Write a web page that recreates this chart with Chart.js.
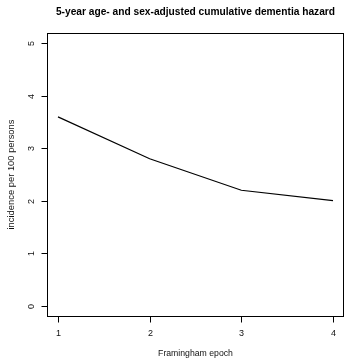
<!DOCTYPE html>
<html>
<head>
<meta charset="utf-8">
<script src="https://cdn.jsdelivr.net/npm/chart.js@4/dist/chart.umd.min.js"></script>
<style>
  html, body { margin: 0; padding: 0; background: #fff; }
  #wrap { width: 344px; height: 360px; position: relative; }
</style>
</head>
<body>
<div id="wrap"><canvas id="c" width="344" height="360"></canvas></div>
<script>
const epochs = [1, 2, 3, 4];
const incidence = [3.6, 2.8, 2.2, 2.0];
const xTicks = [1, 2, 3, 4];
const yTicks = [0, 1, 2, 3, 4, 5];
const titleText = "5-year age- and sex-adjusted cumulative dementia hazard";
const xTitle = "Framingham epoch";
const yTitle = "incidence per 100 persons";

const FONT = '"Liberation Sans", Arial, Helvetica, sans-serif';

const rAxes = {
  id: 'rAxes',
  afterDraw(chart) {
    const ctx = chart.ctx;
    const a = chart.chartArea;
    const xs = chart.scales.x, ys = chart.scales.y;
    ctx.save();
    ctx.strokeStyle = '#000';
    ctx.lineWidth = 1;
    // box
    ctx.strokeRect(Math.round(a.left) + 0.5, Math.round(a.top) + 0.5,
                   Math.round(a.right - a.left) - 1, Math.round(a.bottom - a.top));
    // x ticks
    ctx.fillStyle = '#111';
    ctx.font = '9px ' + FONT;
    ctx.textAlign = 'center';
    ctx.textBaseline = 'middle';
    const bottom = Math.round(a.bottom) + 0.5;
    xTicks.forEach(v => {
      const px = Math.round(xs.getPixelForValue(v)) + 0.5;
      ctx.beginPath();
      ctx.moveTo(px, bottom);
      ctx.lineTo(px, bottom + 6);
      ctx.stroke();
      ctx.fillText(String(v), px, bottom + 17);
    });
    // y ticks
    const left = Math.round(a.left) + 0.5;
    yTicks.forEach(v => {
      const py = Math.round(ys.getPixelForValue(v)) + 0.5;
      ctx.beginPath();
      ctx.moveTo(left, py);
      ctx.lineTo(left - 6, py);
      ctx.stroke();
      ctx.save();
      ctx.translate(left - 16, py);
      ctx.rotate(-Math.PI / 2);
      ctx.fillText(String(v), 0, 0);
      ctx.restore();
    });
    // titles
    const cx = (a.left + a.right) / 2;
    const cy = (a.top + a.bottom) / 2;
    ctx.fillStyle = '#000';
    ctx.font = 'bold 10.2px ' + FONT;
    ctx.fillText(titleText, cx, 12);
    ctx.fillStyle = '#111';
    ctx.font = '8.7px ' + FONT;
    ctx.fillText(xTitle, cx, 354);
    ctx.font = '9.4px ' + FONT;
    ctx.save();
    ctx.translate(11, cy);
    ctx.rotate(-Math.PI / 2);
    ctx.fillText(yTitle, 0, 0);
    ctx.restore();
    ctx.restore();
  }
};

new Chart(document.getElementById('c'), {
  type: 'line',
  data: {
    datasets: [{
      data: epochs.map((e, i) => ({ x: e, y: incidence[i] })),
      borderColor: '#000',
      borderWidth: 1.2,
      pointRadius: 0,
      tension: 0,
      fill: false
    }]
  },
  options: {
    responsive: false,
    animation: false,
    devicePixelRatio: 1,
    layout: { padding: { left: 47, right: 0, top: 33, bottom: 44 } },
    plugins: { legend: { display: false }, tooltip: { enabled: false }, title: { display: false } },
    scales: {
      x: { type: 'linear', min: 0.88, max: 4.12, display: false },
      y: { type: 'linear', min: -0.2, max: 5.2, display: false }
    }
  },
  plugins: [rAxes]
});
</script>
</body>
</html>
